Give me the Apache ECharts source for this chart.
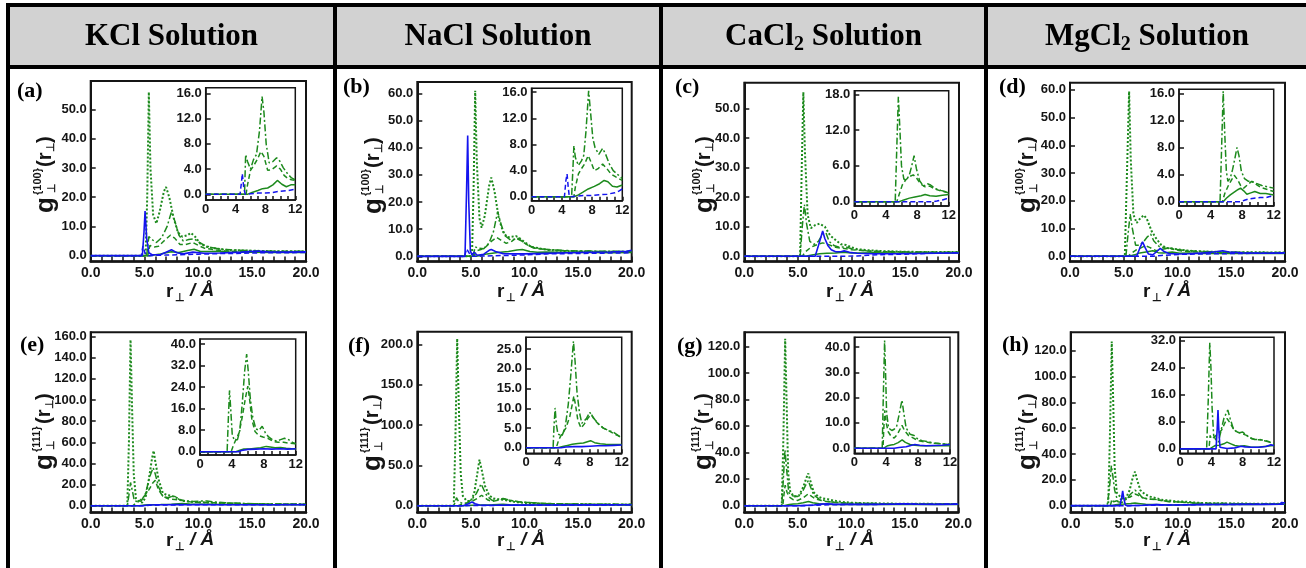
<!DOCTYPE html>
<html><head><meta charset="utf-8">
<script src="https://cdn.jsdelivr.net/npm/echarts@6/dist/echarts.min.js"></script>
<style>html,body{margin:0;padding:0;background:#fff}#c{width:1306px;height:568px}</style>
</head><body><div id="c"></div>
<script>
// ---------------- DATA ----------------
const headerBase = ['KCl', 'NaCl', 'CaCl', 'MgCl'];
const headerSub = ['', '', '2', '2'];
const panelLetters = ['a','b','c','d','e','f','g','h'];
const rowSup = ['100', '111'];

// x tick labels / tick positions
const xLabMain = [0,5,10,15,20], xTickMain = [0,1,2,3,4,5,6,7,8,9,10,11,12,13,14,15,16,17,18,19,20];
const xLabIns = [0,4,8,12], xTickIns = [0,1,2,3,4,5,6,7,8,9,10,11,12];
// y tick labels (main / inset)
const yt_a = [0,10,20,30,40,50], yt_b = [0,10,20,30,40,50,60], yt_c = [0,10,20,30,40,50], yt_d = [0,10,20,30,40,50,60];
const yt_e = [0,20,40,60,80,100,120,140,160], yt_f = [0,50,100,150,200], yt_g = [0,20,40,60,80,100,120], yt_h = [0,20,40,60,80,100,120];
const yti_a = [0,4,8,12,16], yti_b = [0,4,8,12,16], yti_c = [0,6,12,18], yti_d = [0,4,8,12,16];
const yti_e = [0,8,16,24,32,40], yti_f = [0,5,10,15,20,25], yti_g = [0,10,20,30,40], yti_h = [0,8,16,24,32];

// Panel (a) KCl {100}
const a_dot = [[0,0],[5.1,0],[5.25,20],[5.4,56],[5.55,30],[5.8,14],[6.1,11],[6.4,15],[6.8,22],[7.0,23.5],[7.3,20],[7.7,13],[8.1,8],[8.5,6.5],[9.0,7],[9.3,7.8],[9.7,6.5],[10.2,4],[10.8,3],[11.5,2.5],[12.5,2],[14,1.8],[16,1.6],[18,1.5],[20,1.5]];
const a_dd = [[0,0],[5.2,0],[5.4,6.5],[5.7,5.5],[6.1,4.5],[6.6,6.2],[7.1,10],[7.5,15],[7.8,12],[8.2,7],[8.6,5],[9.1,5.5],[9.6,5.8],[10.1,4.5],[10.6,3.5],[11.2,2.8],[12,2.3],[13,2],[14.5,1.8],[16,1.6],[18,1.5],[20,1.5]];
const a_dash = [[0,0],[5.3,0],[5.5,3.5],[5.9,3],[6.3,3.2],[6.8,5],[7.4,7],[7.8,6],[8.3,3.8],[8.8,3.8],[9.5,4.5],[10,3.5],[10.6,2.5],[11.5,2],[12.5,1.6],[14,1.4],[16,1.3],[18,1.3],[20,1.2]];
const a_sol = [[0,0],[5.5,0],[6.0,0.3],[6.5,0.6],[7.0,1.0],[7.5,1.3],[8.2,1.1],[9.0,1.8],[9.6,2.2],[10.2,1.4],[11,1.4],[12,1.5],[13,1.2],[15,1.2],[17,1.1],[20,1.1]];
const a_bsol = [[0,0],[4.8,0],[4.95,8],[5.05,15.3],[5.2,6],[5.4,1],[5.7,0.3],[6.5,0.4],[7.0,1.2],[7.5,2],[8.0,1],[8.6,0.6],[9.5,1.2],[10.5,0.8],[12,0.9],[14,1.2],[15.5,1.6],[16.5,1.3],[18,1.2],[20,1.3]];
const a_bdash = [[0,0],[4.7,0],[4.85,3.3],[5.05,0.8],[5.3,0],[6,0.1],[7,0.2],[8,0.3],[10,0.5],[12,0.7],[14,0.8],[16,1.0],[18,1.0],[20,1.1]];
const ai_dd = [[0,0],[5.2,0],[5.35,6.3],[5.6,5.2],[6.0,4.0],[6.4,5.5],[6.8,6.3],[7.2,10],[7.55,15.5],[7.8,13],[8.1,8],[8.5,5],[9.0,5.2],[9.5,5.8],[9.9,5.3],[10.4,4.2],[11,3.2],[11.5,2.6],[12,2.3]];
const ai_dash = [[0,0],[5.4,0],[5.6,1.5],[6.0,3.8],[6.4,4.5],[6.9,5.5],[7.4,6.8],[7.8,6],[8.3,3.8],[8.8,3.9],[9.5,4.5],[10,4],[10.5,3],[11,2.5],[11.5,2.3],[12,2.2]];
const ai_sol = [[0,0],[5.6,0],[6.2,0.3],[7,0.6],[7.6,0.9],[8.3,1.0],[9,1.5],[9.6,2.2],[10.2,1.6],[10.8,1.2],[11.4,1.5],[12,1.5]];
const ai_bdash = [[0,0],[4.6,0],[4.8,2],[4.9,3.3],[5.1,1],[5.3,0],[6,0.1],[7,0.2],[8,0.2],[9,0.3],[10,0.5],[11,0.6],[12,0.8]];

// Panel (b) NaCl {100}
const b_dot = [[0,0],[5.1,0],[5.25,25],[5.4,61],[5.55,35],[5.8,14],[6.0,10.5],[6.3,15],[6.7,26],[6.9,29],[7.2,24],[7.6,14],[8.0,9],[8.4,7],[8.9,7.3],[9.2,7.5],[9.6,6.5],[10.1,5],[10.6,3.5],[11.3,3],[12.2,2.3],[13.5,2],[15,1.8],[17,1.7],[20,1.6]];
const b_dd = [[0,0],[5.2,0],[5.4,3.5],[5.7,3],[6.2,2.8],[6.7,5],[7.1,9],[7.5,16.5],[7.8,12],[8.2,7.5],[8.7,6],[9.3,6.5],[9.8,5.5],[10.4,4],[11,3],[12,2.6],[13.5,2.2],[15,2],[17,1.9],[20,1.8]];
const b_dash = [[0,0],[5.3,0],[5.5,2],[6.0,2.6],[6.4,3.5],[6.9,5.5],[7.4,7],[7.8,6],[8.3,4.8],[8.8,5.5],[9.3,7],[9.8,5.5],[10.4,3.8],[11,3],[12,2.5],[13.5,2.1],[15,1.9],[17,1.8],[20,1.8]];
const b_sol = [[0,0],[5.5,0],[6.0,0.4],[6.5,0.9],[7.5,1.4],[8.5,1.8],[9.3,2.3],[9.8,2.5],[10.5,1.8],[11.2,1.5],[12,1.6],[14,1.4],[16,1.4],[18,1.3],[20,1.4]];
const b_bsol = [[0,0],[4.45,0],[4.6,25],[4.7,44.5],[4.8,20],[4.95,2],[5.1,0.5],[5.3,1.5],[5.6,0.4],[6.2,0.8],[6.7,2.2],[6.9,2.5],[7.3,1.8],[8.0,1.0],[9,0.9],[10,0.9],[12,1.1],[14,1.3],[16,1.5],[18,1.6],[19.5,1.9],[20,2.2]];
const b_bdash = [[0,0],[4.4,0],[4.6,2.8],[4.75,3.2],[4.95,0.5],[5.2,0],[6,0.1],[7,0.2],[8,0.3],[10,0.5],[12,0.9],[14,1.0],[16,1.1],[18,1.2],[20,1.3]];
const bi_dd = [[0,0],[5.3,0],[5.5,5],[5.6,7.8],[5.8,6],[6.2,4.8],[6.6,5.5],[6.9,6.3],[7.2,10],[7.55,16.2],[7.8,13],[8.1,9],[8.4,7.5],[8.9,6.5],[9.4,7.4],[9.8,6.5],[10.3,5],[10.8,4],[11.4,3.4],[12,2.8]];
const bi_dash = [[0,0],[5.6,0],[5.8,1.5],[6.2,3.5],[6.6,4.3],[7.0,5],[7.5,6.3],[7.9,5.2],[8.3,4.0],[8.8,4.3],[9.4,5],[9.9,4.4],[10.5,3.5],[11.2,3],[12,2.5]];
const bi_sol = [[0,0],[5.6,0],[6.2,0.3],[6.8,0.7],[7.5,1.2],[8.3,1.6],[9,2],[9.6,2.5],[10.1,2.3],[10.7,1.6],[11.3,1.5],[12,1.8]];
const bi_bdash = [[0,0],[4.35,0],[4.55,2.5],[4.7,3.5],[4.85,1.5],[5.0,0],[6,0.1],[7,0.2],[8,0.2],[9,0.3],[10,0.4],[11,0.6],[11.6,0.9],[12,1.2]];

// Panel (c) CaCl2 {100}
const c_dot = [[0,0],[5.2,0],[5.35,30],[5.5,55.5],[5.65,35],[5.9,14],[6.2,9.5],[6.6,10.5],[7.0,11],[7.5,10],[8.0,7],[8.5,5.5],[9.0,4],[9.5,3.8],[10,3],[10.5,2.4],[11.5,2],[13,1.7],[15,1.5],[17,1.4],[20,1.4]];
const c_dd = [[0,0],[5.2,0],[5.4,10],[5.6,17.5],[5.8,11],[6.1,5],[6.5,4],[6.9,5],[7.3,7.5],[7.6,8],[7.9,5],[8.4,3.5],[8.9,3],[9.4,3.2],[10,2.5],[10.8,2],[12,1.7],[14,1.5],[16,1.4],[20,1.3]];
const c_dash = [[0,0],[5.4,0],[5.7,1.5],[6.2,3],[6.7,3.8],[7.3,4.5],[7.8,4],[8.5,3],[9.3,2.6],[10,2.2],[11,1.9],[12,1.6],[14,1.4],[16,1.3],[20,1.3]];
const c_sol = [[0,0],[5.7,0],[6.3,0.4],[7,0.8],[7.7,1.0],[8.5,1.1],[9.2,1.3],[10,1.1],[11,1.1],[12,1.2],[14,1.1],[17,1.0],[20,1.1]];
const c_bsol = [[0,0],[6.6,0],[6.9,3.5],[7.1,6],[7.3,8.5],[7.5,6],[7.8,3.5],[8.1,2.2],[8.5,1.5],[9.0,1.5],[9.3,1.8],[9.8,1.3],[10.5,1.0],[12,0.8],[14,0.8],[16,0.9],[18,1.0],[20,1.1]];
const c_bdash = [[0,0],[9.5,0],[10.5,0.1],[11.5,0.3],[12.5,0.5],[14,0.6],[16,0.8],[17.5,1.0],[19,1.1],[20,1.2]];
const ci_dd = [[0,0],[5.2,0],[5.4,9],[5.6,17.6],[5.8,12],[6.0,6],[6.3,3.8],[6.6,3.6],[7.0,4.5],[7.3,6],[7.6,7.7],[7.9,5.5],[8.3,3.5],[8.8,2.6],[9.3,3.0],[9.7,2.8],[10.3,2.2],[11,1.9],[11.5,1.7],[12,1.5]];
const ci_dash = [[0,0],[5.4,0],[5.7,1.2],[6.1,2.8],[6.5,3.6],[7.0,4.2],[7.5,4.5],[7.9,4.0],[8.4,3.0],[9,2.5],[9.6,2.6],[10.3,2.1],[11,1.8],[12,1.5]];
const ci_sol = [[0,0],[5.7,0],[6.3,0.3],[7,0.6],[7.7,0.8],[8.5,1.0],[9.0,1.2],[9.6,1.0],[10.4,0.9],[11.2,1.1],[12,1.2]];
const ci_bdash = [[0,0],[9.8,0],[10.5,0.1],[11.2,0.3],[11.7,0.5],[12,0.5]];

// Panel (d) MgCl2 {100}
const d_dot = [[0,0],[5.1,0],[5.3,30],[5.5,59.5],[5.65,35],[5.9,15],[6.2,12],[6.6,14],[6.9,14.8],[7.2,13],[7.6,9],[8.0,6.5],[8.5,4],[9.0,3],[9.5,2.8],[10,2.5],[11,2],[12.5,1.7],[14,1.5],[16,1.4],[18,1.4],[20,1.3]];
const d_dd = [[0,0],[5.2,0],[5.4,8],[5.6,15.2],[5.8,10],[6.1,4],[6.5,4],[6.9,5.5],[7.2,7],[7.5,8],[7.8,5.5],[8.3,3.5],[8.8,3],[9.3,2.8],[10,2.4],[11,2],[12,1.8],[14,1.5],[16,1.4],[20,1.3]];
const d_dash = [[0,0],[5.4,0],[5.7,1],[6.2,2.4],[6.6,3],[7.0,3.8],[7.4,3.2],[8.0,2],[8.6,2.5],[9.2,3],[9.8,2.3],[10.5,1.8],[11.5,1.6],[13,1.4],[16,1.3],[20,1.2]];
const d_sol = [[0,0],[5.5,0],[6.0,0.5],[6.5,1.2],[7.2,1.6],[7.7,2.0],[8.2,1.3],[8.7,1.2],[9.5,1.5],[10.2,1.1],[11,1.2],[12,1.0],[14,1.0],[17,1.0],[20,1.0]];
const d_bsol = [[0,0],[6.2,0],[6.5,3],[6.75,5.2],[7.0,3],[7.3,0.8],[7.7,0.5],[8.1,1.8],[8.4,2.8],[8.7,1.8],[9.2,1],[10,0.8],[11,0.9],[12.5,1.2],[13.5,1.6],[14.2,2.0],[14.8,1.5],[16,1.2],[18,1.1],[20,1.2]];
const d_bdash = [[0,0],[7.8,0],[8.5,0.3],[9.5,0.5],[10.5,0.7],[12,0.8],[14,0.9],[16,1.0],[18,1.1],[20,1.1]];
const di_dd = [[0,0],[5.2,0],[5.4,8],[5.6,16.3],[5.8,10],[6.0,4.5],[6.2,3],[6.5,3.5],[6.8,4.8],[7.1,6.5],[7.35,8],[7.6,6.8],[7.9,4.5],[8.3,3.4],[8.8,3.0],[9.2,3.0],[9.8,2.7],[10.5,2.4],[11.2,2.2],[12,2.0]];
const di_dash = [[0,0],[5.5,0],[5.8,1.2],[6.3,2.5],[6.7,3.3],[7.0,3.9],[7.4,3.3],[7.8,2.4],[8.2,2.0],[8.7,2.5],[9.2,3.0],[9.7,2.6],[10.4,2.1],[11.2,1.8],[12,1.5]];
const di_sol = [[0,0],[5.6,0],[6.0,0.5],[6.5,1.0],[7.0,1.4],[7.5,1.8],[7.8,2.0],[8.2,1.6],[8.6,1.1],[9.1,1.3],[9.6,1.5],[10.3,1.2],[11,1.2],[11.5,1.1],[12,1.0]];
const di_bdash = [[0,0],[7.8,0],[8.3,0.2],[8.8,0.4],[9.5,0.5],[10.3,0.6],[11,0.6],[11.6,0.8],[12,0.7]];

// Panel (e) KCl {111}
const e_dot = [[0,0],[3.4,0],[3.55,60],[3.7,157],[3.85,90],[4.0,30],[4.2,7],[4.5,3.5],[4.8,3],[5.1,8],[5.4,25],[5.7,45],[5.85,52],[6.0,42],[6.3,25],[6.7,12],[7.1,10],[7.5,9.5],[7.9,8],[8.4,5],[9,4],[9.8,3.5],[10.5,3.2],[11.2,3],[12,2.6],[13,2.2],[14,1.8],[15.5,1.6],[17,1.4],[18.5,1.4],[20,1.2]];
const e_dd = [[0,0],[3.4,0],[3.55,10],[3.7,22],[3.85,15],[4.05,5],[4.3,4],[4.7,4.5],[5.1,12],[5.5,28],[5.8,36],[6.0,30],[6.3,18],[6.7,9],[7.2,7.5],[7.7,9.5],[8.2,6],[8.8,4.5],[9.5,4],[10.3,4.5],[10.8,4.5],[11.5,3.5],[12.5,2.8],[14,2.2],[16,1.8],[18,1.6],[20,1.5]];
const e_dash = [[0,0],[3.9,0],[4.2,2.5],[4.5,4.5],[4.9,8],[5.4,15],[5.8,22],[6.0,24],[6.3,15],[6.7,9],[7.2,6.5],[7.8,6],[8.5,5],[9.2,3.8],[10,3.2],[11,3],[12,2.6],[14,2],[16,1.7],[18,1.5],[20,1.4]];
const e_sol = [[0,0],[4.5,0],[5.0,0.6],[5.5,1.0],[6.5,1.2],[7.5,1.5],[8.5,2],[9.2,1.7],[10,1.5],[11,1.3],[12,1.1],[14,1.1],[17,1.0],[20,1.0]];
const e_bsol = [[0,0],[4.8,0],[5.2,0.5],[6,0.9],[7,1.0],[8,1.2],[9,1.0],[10,1.1],[12,1.0],[15,1.0],[20,1.0]];
const e_bdash = [[0,0],[5.0,0],[5.5,0.4],[6.5,0.7],[8,0.8],[10,0.9],[12,1.0],[15,1.0],[20,1.1]];
const ei_dd = [[0,0],[3.4,0],[3.55,12],[3.7,22.8],[3.85,16],[4.05,6],[4.3,4.5],[4.7,4.5],[5.0,8],[5.3,18],[5.6,30],[5.85,36.3],[6.05,30],[6.3,20],[6.6,13],[7.0,8.5],[7.4,8],[7.8,9.5],[8.2,7],[8.6,5.5],[9.1,4.5],[9.6,4],[10.1,4.5],[10.6,5],[11.1,4.5],[11.6,3.5],[12,3]];
const ei_dash = [[0,0],[3.9,0],[4.2,2.5],[4.5,4.5],[4.9,7],[5.3,13],[5.7,20],[6.0,24.4],[6.2,20],[6.5,12],[6.9,7.5],[7.4,6],[7.9,5.5],[8.5,5],[9.2,3.8],[9.8,3.5],[10.5,3.5],[11.2,3.2],[12,3]];
const ei_sol = [[0,0],[4.5,0],[5.0,0.6],[5.5,1.0],[6.2,1.0],[7.0,1.3],[7.6,1.5],[8.3,2],[8.8,1.8],[9.4,1.5],[10.1,1.6],[10.8,1.3],[11.5,1.1],[12,1.0]];
const ei_bsol = [[0,0],[4.8,0],[5.2,0.5],[6,0.9],[7,1.0],[8,1.1],[9,1.0],[10,1.1],[11,1.0],[12,1.1]];

// Panel (f) NaCl {111}
const f_dot = [[0,0],[3.4,0],[3.55,80],[3.72,207],[3.88,120],[4.05,40],[4.25,12],[4.6,6],[5.0,6],[5.3,15],[5.6,40],[5.8,57],[6.0,45],[6.3,25],[6.7,13],[7.1,9],[7.6,8],[8.0,7.5],[8.5,6],[9.2,4.5],[10,3.5],[11,2.8],[12,2.3],[13.5,2],[15,1.8],[17,1.6],[20,1.5]];
const f_dd = [[0,0],[3.4,0],[3.55,5],[3.65,10],[3.85,5],[4.1,3.5],[4.6,3],[5.1,8],[5.5,15],[5.95,27],[6.2,20],[6.5,12],[7.0,6.5],[7.6,7.5],[8.0,9],[8.6,7],[9.4,5],[10.3,4],[11.3,3],[12.5,2.5],[14,2.1],[16,1.9],[18,1.7],[20,1.6]];
const f_dash = [[0,0],[3.8,0],[4.2,2],[4.6,3.5],[5.1,5.5],[5.6,9],[6.0,13],[6.3,10],[6.6,7],[7.0,5.2],[7.6,7],[8.1,8.5],[8.7,6.5],[9.5,4.8],[10.3,4],[11.3,3.2],[12.5,2.6],[14,2.2],[16,1.9],[18,1.7],[20,1.6]];
const f_sol = [[0,0],[4.0,0],[4.6,0.3],[5.2,0.6],[6,1.0],[7,1.2],[8,1.8],[8.6,1.2],[9.5,1.0],[11,0.9],[13,0.9],[16,0.9],[20,1.0]];
const f_bsol = [[0,0],[4.3,0],[4.7,2],[5.1,4.5],[5.4,2.5],[5.8,0.8],[6.5,0.5],[7.5,0.6],[9,0.7],[11,0.8],[13,0.9],[16,1.0],[20,1.2]];
const f_bdash = [[0,0],[4.5,0],[5.0,0.2],[6,0.3],[8,0.5],[10,0.6],[12,0.8],[15,0.9],[18,1.0],[20,1.1]];
const fi_dd = [[0,0],[3.4,0],[3.5,5],[3.65,10.1],[3.8,6],[4.0,3.5],[4.5,3],[4.9,5],[5.3,11],[5.6,18],[5.95,27],[6.15,22],[6.4,14],[6.7,9],[7.0,6.2],[7.3,6.8],[7.6,7.5],[8.0,9],[8.3,8],[8.7,7],[9.2,5.8],[9.7,5],[10.3,4.4],[10.9,4],[11.5,3.2],[12,2.5]];
const fi_dash = [[0,0],[3.8,0],[4.1,2],[4.5,3.5],[5.0,5],[5.5,8],[5.8,11],[6.0,13.1],[6.2,11],[6.5,7],[6.9,5],[7.3,6],[7.8,7.6],[8.2,8.5],[8.6,7],[9.1,6],[9.7,5],[10.3,4.4],[11,3.6],[11.6,3],[12,2.5]];
const fi_sol = [[0,0],[4.0,0],[4.6,0.3],[5.2,0.6],[5.8,0.9],[6.5,1.1],[7.2,1.2],[7.8,1.6],[8.1,1.8],[8.6,1.3],[9.3,1.0],[10,0.9],[11,0.8],[12,0.8]];
const fi_bsol = [[0,0],[4.4,0],[5.0,0.2],[6,0.3],[7,0.3],[8,0.4],[9,0.5],[10,0.5],[11,0.6],[12,0.7]];

// Panel (g) CaCl2 {111}
const g_dot = [[0,0],[3.5,0],[3.65,50],[3.82,126],[3.95,80],[4.1,25],[4.3,10],[4.7,7],[5.1,7.5],[5.5,14],[5.8,21],[5.98,24.4],[6.2,18],[6.5,10],[6.9,7],[7.3,5.5],[7.8,5],[8.3,4],[9,3],[10,2.3],[11,2],[12.5,1.8],[14,1.6],[16,1.5],[18,1.4],[20,1.4]];
const g_dd = [[0,0],[3.5,0],[3.65,20],[3.8,42],[3.95,28],[4.15,10],[4.5,7.5],[5.0,7],[5.4,10],[5.7,15],[5.98,19],[6.2,14],[6.5,8],[7.0,5],[7.5,4],[8.0,3],[8.6,2.5],[9.5,2],[10.5,1.7],[12,1.6],[14,1.5],[17,1.4],[20,1.3]];
const g_dash = [[0,0],[3.6,0],[3.7,8],[3.82,15.5],[4.0,10],[4.2,6.5],[4.6,4.5],[5.0,4],[5.5,6],[5.98,9],[6.3,7],[6.7,5],[7.2,4],[7.8,3],[8.5,2.5],[9.5,2],[11,1.7],[13,1.5],[16,1.4],[20,1.3]];
const g_sol = [[0,0],[3.7,0],[4.2,1],[4.6,1.3],[5.0,1.5],[5.5,2.2],[6.0,3.2],[6.4,2.3],[7,1.5],[7.6,1.2],[8.3,1.0],[9.5,1.0],[11,1.0],[14,1.0],[17,1.0],[20,1.0]];
const g_bsol = [[0,0],[5.0,0],[5.6,0.3],[6.5,0.6],[7.2,1.2],[7.7,1.5],[8.3,1.2],[9,1.0],[10,1.1],[12,1.0],[14,1.2],[15,1.5],[16,1.2],[18,1.0],[20,1.1]];
const g_bdash = [[0,0],[5.5,0],[6.5,0.3],[7.5,0.6],[8.5,0.8],[10,0.9],[12,1.0],[14,1.1],[16,1.1],[18,1.2],[20,1.3]];
const gi_dd = [[0,0],[3.5,0],[3.62,18],[3.8,42.5],[3.92,30],[4.05,14],[4.3,8],[4.7,7],[5.0,7.5],[5.3,8.5],[5.6,13],[5.98,19],[6.2,14],[6.5,8],[7.0,5.5],[7.5,5],[8.0,3.5],[8.5,3],[9.2,2.6],[10,2],[10.8,1.8],[11.5,1.7],[12,1.6]];
const gi_dash = [[0,0],[3.6,0],[3.7,8],[3.82,15],[4.0,10],[4.25,6.5],[4.6,4.8],[5.0,4],[5.4,5.5],[5.98,9],[6.3,7],[6.8,5],[7.3,4.2],[8.0,3],[8.7,2.6],[9.5,2.2],[10.3,2],[11.2,1.7],[12,1.5]];
const gi_sol = [[0,0],[3.7,0],[4.2,1],[4.6,1.3],[5.0,1.5],[5.5,2.2],[6.0,3.3],[6.4,2.3],[7.0,1.5],[7.6,1.2],[8.3,1.0],[9.5,1.0],[10.5,1.0],[12,1.0]];
const gi_bsol = [[0,0],[5.0,0],[5.6,0.3],[6.5,0.6],[7.2,1.2],[7.6,1.5],[8.2,1.2],[9,1.0],[10,1.1],[11,1.2],[12,1.5]];

// Panel (h) MgCl2 {111}
const h_dot = [[0,0],[3.5,0],[3.65,50],[3.83,127],[3.97,80],[4.1,30],[4.3,10],[4.7,6],[5.1,5],[5.5,12],[5.8,22],[6.0,26.3],[6.2,20],[6.5,12],[6.9,9],[7.4,7],[7.9,6],[8.5,4.5],[9.2,4],[10,3.2],[10.5,3.3],[11.3,2.5],[12.5,2],[14,1.8],[16,1.6],[18,1.5],[20,1.5]];
const h_dd = [[0,0],[3.4,0],[3.6,12],[3.8,31],[3.95,22],[4.1,12],[4.4,3],[4.8,2.5],[5.2,5],[5.6,9],[6.0,12],[6.3,10],[6.7,6],[7.2,5],[7.8,5],[8.5,4],[9.2,3],[10.2,2.8],[11,2.2],[12,1.8],[14,1.6],[17,1.5],[20,1.4]];
const h_dash = [[0,0],[3.7,0],[3.85,5],[4.0,3],[4.4,4],[4.8,5.5],[5.5,6.5],[6.0,9],[6.3,8],[6.8,6],[7.5,5],[8.0,4.5],[8.8,3.5],[9.5,3],[10.5,2.6],[11.5,2.2],[12.5,1.8],[14,1.6],[17,1.5],[20,1.4]];
const h_sol = [[0,0],[3.8,0],[4.2,0.8],[4.5,1.1],[5.0,1.2],[5.6,1.6],[6.0,2.0],[6.5,1.5],[7.0,1.0],[8,0.8],[9,0.6],[10,0.5],[12,0.9],[14,0.9],[17,0.9],[20,1.0]];
const h_bsol = [[0,0],[4.6,0],[4.75,6],[4.85,11.4],[4.95,6],[5.1,0.5],[5.3,0],[6,0.1],[7,0.3],[8,0.8],[9,0.5],[10,0.5],[12,0.8],[14,0.9],[16,1.0],[18,1.0],[19.5,1.2],[19.7,2.5],[20,2.0]];
const h_bdash = [[0,0],[5.5,0],[6.5,0.2],[8,0.4],[10,0.6],[12,0.8],[14,0.9],[16,1.0],[18,1.0],[20,1.1]];
const hi_dd = [[0,0],[3.4,0],[3.6,14],[3.8,31.4],[3.95,24],[4.1,12],[4.3,4],[4.6,2.5],[4.9,2],[5.2,5],[5.6,9],[6.1,11.5],[6.4,9],[6.8,6],[7.2,5],[7.6,4.8],[8.0,5],[8.5,4],[9.0,3.2],[9.5,2.8],[10.2,2.8],[10.8,2.4],[11.4,2],[12,1.5]];
const hi_dash = [[0,0],[3.7,0],[3.85,4],[4.0,3],[4.4,3.5],[4.8,4.5],[5.3,5.5],[5.7,7.5],[6.0,9],[6.3,8],[6.8,6],[7.3,5],[7.9,4.5],[8.5,4],[9.2,3],[9.8,2.7],[10.5,2.6],[11.2,2.3],[12,1.5]];
const hi_sol = [[0,0],[3.8,0],[4.2,0.6],[4.5,1.0],[5.0,1.1],[5.6,1.5],[6.0,2.0],[6.5,1.5],[7.0,1.0],[7.6,0.8],[8.2,0.9],[9,0.6],[10,0.5],[11,0.8],[12,1.0]];
const hi_bsol = [[0,0],[4.6,0],[4.75,6],[4.85,11.5],[4.95,6],[5.1,0.5],[5.3,0],[6,0.1],[7,0.3],[7.8,0.8],[8.3,0.6],[9,0.5],[10,0.5],[11,0.7],[11.6,1.2],[12,1.0]];

// ---------------- LAYOUT / STYLE ----------------
const GREEN = '#1d8a1d', BLUE = '#1414ee', INK = '#151515';
const STY = {
  gdot: {color: GREEN, width: 2, type: [2, 2]},
  gdd: {color: GREEN, width: 1.5, type: [7, 2.5, 2, 2.5]},
  gdash: {color: GREEN, width: 1.5, type: [5, 3]},
  gsol: {color: GREEN, width: 1.5, type: 'solid'},
  bsol: {color: BLUE, width: 1.6, type: 'solid'},
  bdash: {color: BLUE, width: 1.5, type: [5, 3]}
};
const P = [
  {m:[90.7,81,306,261.5], ym:[-2,59.8], yt:yt_a, i:[205.7,87.7,295.3,200], yi:[-0.9,16.9], yti:yti_a,
   s:[[a_dot,'gdot'],[a_dd,'gdd'],[a_dash,'gdash'],[a_sol,'gsol'],[a_bdash,'bdash'],[a_bsol,'bsol']],
   si:[[ai_dd,'gdd'],[ai_dash,'gdash'],[ai_sol,'gsol'],[ai_bdash,'bdash']], lab:[17,91], yt0:[45,173]},
  {m:[417.3,82,631.7,261.5], ym:[-1.9,64.2], yt:yt_b, i:[531.5,88.3,622.3,200.7], yi:[-0.6,16.6], yti:yti_b,
   s:[[b_dot,'gdot'],[b_dd,'gdd'],[b_dash,'gdash'],[b_sol,'gsol'],[b_bdash,'bdash'],[b_bsol,'bsol']],
   si:[[bi_dd,'gdd'],[bi_dash,'gdash'],[bi_sol,'gsol'],[bi_bdash,'bdash']], lab:[343,87], yt0:[373,174]},
  {m:[744.3,82.7,959,261.5], ym:[-1.8,58.7], yt:yt_c, i:[854.3,90.7,948.7,206], yi:[-0.72,18.6], yti:yti_c,
   s:[[c_dot,'gdot'],[c_dd,'gdd'],[c_dash,'gdash'],[c_sol,'gsol'],[c_bdash,'bdash'],[c_bsol,'bsol']],
   si:[[ci_dd,'gdd'],[ci_dash,'gdash'],[ci_sol,'gsol'],[ci_bdash,'bdash']], lab:[675,87], yt0:[704,173]},
  {m:[1070,82.7,1285,261.5], ym:[-1.9,62.6], yt:yt_d, i:[1179,89.3,1273.7,206], yi:[-0.64,16.6], yti:yti_d,
   s:[[d_dot,'gdot'],[d_dd,'gdd'],[d_dash,'gdash'],[d_sol,'gsol'],[d_bdash,'bdash'],[d_bsol,'bsol']],
   si:[[di_dd,'gdd'],[di_dash,'gdash'],[di_sol,'gsol'],[di_bdash,'bdash']], lab:[999,87], yt0:[1027,173]},
  {m:[90.7,332.3,306,512.5], ym:[-6.4,164.1], yt:yt_e, i:[200,339,295.7,455], yi:[-1.2,41.9], yti:yti_e,
   s:[[e_dot,'gdot'],[e_dd,'gdd'],[e_dash,'gdash'],[e_sol,'gsol'],[e_bdash,'bdash'],[e_bsol,'bsol']],
   si:[[ei_dd,'gdd'],[ei_dash,'gdash'],[ei_sol,'gsol'],[ei_bsol,'bsol']], lab:[20,345], yt0:[44,430]},
  {m:[417.3,331.7,631.7,512.5], ym:[-8.4,215.6], yt:yt_f, i:[526,337.3,621.7,453.3], yi:[-1.4,28.0], yti:yti_f,
   s:[[f_dot,'gdot'],[f_dd,'gdd'],[f_dash,'gdash'],[f_sol,'gsol'],[f_bdash,'bdash'],[f_bsol,'bsol']],
   si:[[fi_dd,'gdd'],[fi_dash,'gdash'],[fi_sol,'gsol'],[fi_bsol,'bsol']], lab:[348,346], yt0:[372,431]},
  {m:[744.3,332.3,958.3,512.5], ym:[-5.1,130.9], yt:yt_g, i:[854.3,337.3,950,453.3], yi:[-2.0,43.8], yti:yti_g,
   s:[[g_dot,'gdot'],[g_dd,'gdd'],[g_dash,'gdash'],[g_sol,'gsol'],[g_bdash,'bdash'],[g_bsol,'bsol']],
   si:[[gi_dd,'gdd'],[gi_dash,'gdash'],[gi_sol,'gsol'],[gi_bsol,'bsol']], lab:[677,346], yt0:[703,430]},
  {m:[1070.7,332.3,1285,512.5], ym:[-5.3,134.2], yt:yt_h, i:[1180,337.3,1274,453.3], yi:[-1.3,33.0], yti:yti_h,
   s:[[h_dot,'gdot'],[h_dd,'gdd'],[h_dash,'gdash'],[h_sol,'gsol'],[h_bdash,'bdash'],[h_bsol,'bsol']],
   si:[[hi_dd,'gdd'],[hi_dash,'gdash'],[hi_sol,'gsol'],[hi_bsol,'bsol']], lab:[1002,345], yt0:[1027,430]}
];
const colX = [[10,333],[337,659],[663,984],[988,1306]];
const xTitleX = [166, 497, 826, 1143];
const xTitleY = [292, 541];

const FONT = '"Liberation Sans", Arial, sans-serif';
const SERIF = '"Liberation Serif", "Times New Roman", serif';

const grids = [], xAxes = [], yAxes = [], series = [];
function addPlot(rect, ymin, ymax, yvals, xmax, xlabs, xticks, isInset, sers) {
  const idx = grids.length;
  grids.push({left: rect[0], top: rect[1], width: rect[2]-rect[0], height: rect[3]-rect[1],
    show: true, borderColor: INK, borderWidth: isInset ? 1.5 : 2, backgroundColor: isInset ? '#fff' : 'transparent',
    containLabel: false, outerBoundsMode: 'none', z: isInset ? 5 : 1});
  xAxes.push({type: 'value', gridIndex: idx, min: 0, max: xmax, z: isInset ? 6 : 2,
    axisLine: {show: true, onZero: false, lineStyle: {color: INK, width: isInset ? 1.5 : 2.5}},
    axisTick: {show: true, inside: true, length: isInset ? 4 : 5, customValues: xticks, lineStyle: {color: INK, width: 1.5}},
    splitLine: {show: false},
    axisLabel: {fontFamily: FONT, fontWeight: 'bold', fontSize: isInset ? 13 : 14, color: INK, margin: isInset ? 3 : 5,
      customValues: xlabs, formatter: v => isInset ? String(v) : Number(v).toFixed(1)}});
  yAxes.push({type: 'value', gridIndex: idx, min: ymin, max: ymax, z: isInset ? 6 : 2,
    axisLine: {show: true, onZero: false, lineStyle: {color: INK, width: isInset ? 1.5 : 2}},
    axisTick: {show: true, inside: true, length: 5, customValues: yvals, lineStyle: {color: INK, width: 1.5}},
    splitLine: {show: false},
    axisLabel: {fontFamily: FONT, fontWeight: 'bold', fontSize: 13, color: INK, margin: 4, customValues: yvals,
      formatter: v => Number(v).toFixed(1)}});
  sers.forEach(([data, key]) => series.push({type: 'line', xAxisIndex: idx, yAxisIndex: idx, data: data,
    showSymbol: false, symbol: 'none', silent: true, clip: true, z: isInset ? 7 : 3,
    lineStyle: STY[key]}));
}
P.forEach(p => {
  addPlot(p.m, p.ym[0], p.ym[1], p.yt, 20, xLabMain, xTickMain, false, p.s);
  addPlot(p.i, p.yi[0], p.yi[1], p.yti, 12, xLabIns, xTickIns, true, p.si);
});

// ---------------- GRAPHICS ----------------
const G = [];
function rect(x, y, w, h, fill, z) { G.push({type: 'rect', shape: {x, y, width: w, height: h}, style: {fill}, z: z || 50, silent: true}); }
rect(6, 3, 1300, 66, '#d2d2d2', 0);
rect(6, 3, 1300, 4, '#000');
rect(6, 65, 1300, 4, '#000');
rect(6, 3, 4, 565, '#000');
rect(333, 3, 4, 565, '#000');
rect(659, 3, 4, 565, '#000');
rect(984, 3, 4, 565, '#000');
colX.forEach((c, k) => {
  const txt = headerSub[k] ? '{m|' + headerBase[k] + '}{s|' + headerSub[k] + '}{m| Solution}' : '{m|' + headerBase[k] + ' Solution}';
  G.push({type: 'text', x: (c[0] + c[1]) / 2, y: 37, z: 60, silent: true,
    style: {text: txt, align: 'center', verticalAlign: 'middle',
      rich: {m: {fontFamily: SERIF, fontWeight: 'bold', fontSize: 31, lineHeight: 36, fill: '#000', verticalAlign: 'middle'},
             s: {fontFamily: SERIF, fontWeight: 'bold', fontSize: 20, lineHeight: 18, fill: '#000', verticalAlign: 'bottom'}}}});
});
P.forEach((p, k) => {
  G.push({type: 'text', x: p.lab[0], y: p.lab[1], z: 60, silent: true,
    style: {text: '(' + panelLetters[k] + ')', font: 'bold 22px ' + SERIF, fill: '#000', align: 'left', verticalAlign: 'middle'}});
  const sup = '{' + rowSup[k < 4 ? 0 : 1] + '}';
  const F = (s) => 'bold ' + s + 'px ' + FONT;
  G.push({type: 'group', x: p.yt0[0], y: p.yt0[1], rotation: Math.PI / 2, z: 60, silent: true, children: [
    {type: 'text', x: -40, y: 1, style: {text: 'g', font: F(26), fill: INK, align: 'left', verticalAlign: 'middle'}},
    {type: 'text', x: -22, y: -7, style: {text: sup, font: F(11), fill: INK, align: 'left', verticalAlign: 'middle'}},
    {type: 'text', x: -20, y: 7, style: {text: '⊥', font: F(11), fill: INK, align: 'left', verticalAlign: 'middle'}},
    {type: 'text', x: 6, y: 0, style: {text: '(r', font: F(20), fill: INK, align: 'left', verticalAlign: 'middle'}},
    {type: 'text', x: 21, y: 6, style: {text: '⊥', font: F(11), fill: INK, align: 'left', verticalAlign: 'middle'}},
    {type: 'text', x: 30, y: 0, style: {text: ')', font: F(20), fill: INK, align: 'left', verticalAlign: 'middle'}}
  ]});
  const col = k % 4, row = k < 4 ? 0 : 1;
  const bx = xTitleX[col], by = xTitleY[row];
  G.push({type: 'text', x: bx, y: by, z: 60, silent: true, style: {text: 'r', font: F(19), fill: INK, align: 'left', verticalAlign: 'middle'}});
  G.push({type: 'text', x: bx + 9, y: by + 6, z: 60, silent: true, style: {text: '⊥', font: F(11), fill: INK, align: 'left', verticalAlign: 'middle'}});
  G.push({type: 'text', x: bx + 24, y: by - 1, z: 60, silent: true, style: {text: '/ Å', font: 'italic bold 19px ' + FONT, fill: INK, align: 'left', verticalAlign: 'middle'}});
});

const chart = echarts.init(document.getElementById('c'), null, {renderer: 'canvas', width: 1306, height: 568});
chart.setOption({animation: false, backgroundColor: '#fff', grid: grids, xAxis: xAxes, yAxis: yAxes, series: series, graphic: G});
</script></body></html>
